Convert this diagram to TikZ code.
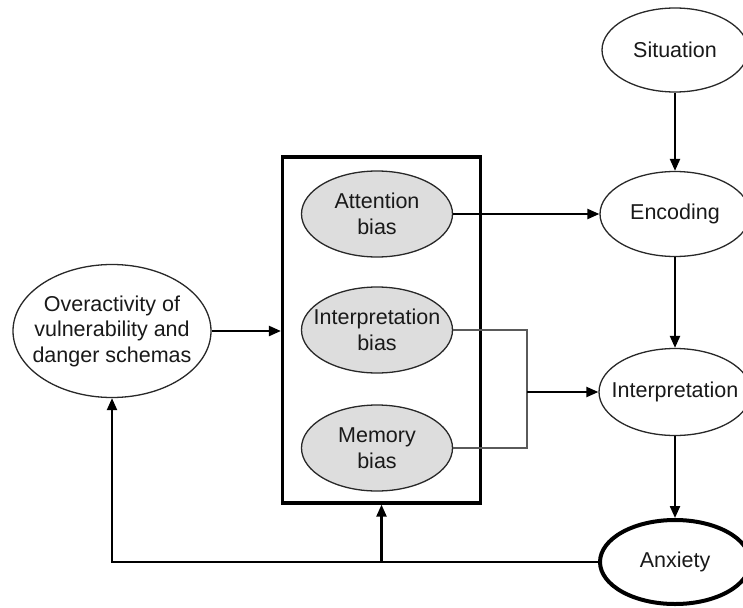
\documentclass[tikz,border=0pt]{standalone}
\usepackage{fontspec}
\setmainfont{Liberation Sans}
\usetikzlibrary{shapes.geometric,arrows.meta}
\definecolor{biasfill}{RGB}{221,221,221}
\definecolor{outl}{RGB}{40,40,40}
\definecolor{thinl}{RGB}{90,90,90}
\begin{document}
\begin{tikzpicture}[x=1pt,y=-1pt,
  every node/.style={font=\fontsize{21.5}{25.5}\selectfont, align=center, text=black!90},
  ell/.style={ellipse, draw=outl, line width=1.3pt, inner xsep=-30pt, inner ysep=-12pt, fill=white},
  biasell/.style={ell, fill=biasfill, minimum width=151pt, minimum height=86pt},
  arr/.style={line width=2.2pt, -{Triangle[length=12pt,width=10pt]}},
  thinline/.style={line width=1.3pt, draw=thinl}]
\useasboundingbox (0,0) rectangle (743,607);
\node[draw, line width=3.2pt, minimum width=198pt, minimum height=346pt, inner sep=0pt] (box) at (381.5,330) {};
\node[ell, minimum width=146pt, minimum height=84pt] (sit) at (675,50) {Situation};
\node[ell, minimum width=150pt, minimum height=85pt] (enc) at (675,214) {Encoding};
\node[ell, minimum width=152pt, minimum height=87pt] (int) at (675,392) {Interpretation};
\node[ell, line width=4pt, draw=black, minimum width=150pt, minimum height=84pt] (anx) at (675,562) {Anxiety};
\node[ell, minimum width=198pt, minimum height=133pt] (over) at (112,331) {Overactivity of\\vulnerability and\\danger schemas};
\node[biasell] (att) at (377,214) {Attention\\bias};
\node[biasell] (ib) at (377,330) {Interpretation\\bias};
\node[biasell] (mb) at (377,448) {Memory\\bias};
\coordinate (j) at (527,392);
\coordinate (k) at (381.5,562);
\draw[arr] (sit) -- (enc);
\draw[arr] (enc) -- (int);
\draw[arr] (int) -- (anx);
\draw[arr] (att.east) -- (enc.west);
\draw[thinline] (ib.east) -| (j);
\draw[thinline] (mb.east) -| (j);
\draw[arr] (j) -- (int.west);
\draw[arr] (over.east) -- (over.east -| box.west);
\draw[arr] (anx.west) -| (over.south);
\draw[arr] (k) -- (box.south);
\end{tikzpicture}
\end{document}
